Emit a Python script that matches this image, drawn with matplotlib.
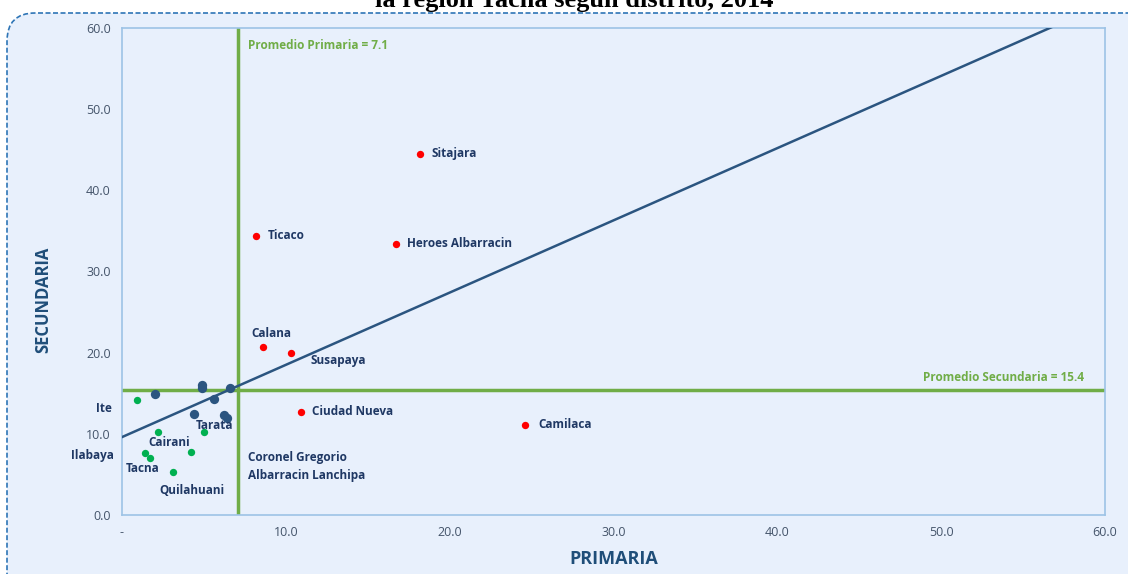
import matplotlib
matplotlib.use("Agg")
import matplotlib.pyplot as plt
from matplotlib.patches import FancyBboxPatch

# ---- data ------------------------------------------------------------------
red_names = ["Sitajara", "Ticaco", "Heroes Albarracin", "Calana", "Susapaya",
             "Ciudad Nueva", "Camilaca"]
red_x = [18.2, 8.2, 16.7, 8.6, 10.3, 10.9, 24.6]
red_y = [44.5, 34.4, 33.4, 20.7, 20.0, 12.7, 11.1]

green_x = [0.9, 2.2, 1.4, 1.7, 3.1, 4.2, 5.0]
green_y = [14.2, 10.2, 7.6, 7.0, 5.3, 7.8, 10.2]

blue_x = [2.0, 4.9, 4.9, 6.6, 5.6, 4.4, 6.2, 6.4]
blue_y = [14.9, 16.0, 15.6, 15.7, 14.3, 12.4, 12.3, 12.0]

# labels placed beside the low-value districts (data coords of text anchor)
other_labels = ["Ite", "Tarata", "Cairani", "Ilabaya", "Tacna", "Quilahuani",
                "Coronel Gregorio\nAlbarracin Lanchipa"]
other_lx = [-1.6, 4.5, 1.6, -3.1, 0.2, 2.3, 7.7]
other_ly = [13.1, 11.0, 8.9, 7.3, 5.7, 3.0, 6.0]

avg_primaria = 7.1
avg_secundaria = 15.4
trend_intercept = 9.6
trend_slope = 0.89

x_ticks = [0, 10, 20, 30, 40, 50, 60]
x_tick_labels = ["-", "10.0", "20.0", "30.0", "40.0", "50.0", "60.0"]
y_ticks = [0, 10, 20, 30, 40, 50, 60]
y_tick_labels = ["0.0", "10.0", "20.0", "30.0", "40.0", "50.0", "60.0"]

# ---- style -----------------------------------------------------------------
bg = "#E8F0FC"
navy = "#1F3864"
tick_col = "#44546A"
avg_col = "#70AD47"
spine_col = "#9DC3E6"
font = "Open Sans"

fig = plt.figure(figsize=(11.28, 5.74), dpi=100)
fig.patch.set_facecolor("white")

W, H = 1128, 574
box = FancyBboxPatch((7 / W, -0.1), 1.2, 1.1 - 13 / H,
                     boxstyle="round,pad=0,rounding_size=0.025",
                     transform=fig.transFigure, facecolor=bg,
                     edgecolor="#2E75B6", linestyle=(0, (3, 1.5)), linewidth=1.2,
                     mutation_aspect=W / H, zorder=-1)
fig.patches.append(box)

fig.text(574 / W, 1 - 7 / H, "la región Tacna según distrito, 2014",
         ha="center", va="baseline", fontsize=19, fontweight="bold",
         family="Liberation Serif", color="black")

ax = fig.add_axes([122 / W, 1 - 515 / H, (1105 - 122) / W, (515 - 28) / H])
ax.set_facecolor(bg)
ax.set_xlim(0, 60)
ax.set_ylim(0, 60)
for sp in ax.spines.values():
    sp.set_color(spine_col)
    sp.set_linewidth(1.2)
ax.tick_params(length=0, labelsize=9, colors=tick_col, pad=8)
ax.set_xticks(x_ticks)
ax.set_xticklabels(x_tick_labels, family=font)
ax.set_yticks(y_ticks)
ax.set_yticklabels(y_tick_labels, family=font)

# average lines
ax.axvline(avg_primaria, color=avg_col, linewidth=2.5, zorder=2)
ax.axhline(avg_secundaria, color=avg_col, linewidth=2.5, zorder=2)
ax.text(avg_primaria + 0.6, 57.9, f"Promedio Primaria = {avg_primaria}",
        color=avg_col, fontsize=8.5, fontweight="bold", family=font, va="center")
ax.text(58.7, avg_secundaria + 0.7, f"Promedio Secundaria = {avg_secundaria}",
        color=avg_col, fontsize=8.5, fontweight="bold", family=font,
        ha="right", va="bottom")

# trend line
tx = [0, 60]
ty = [trend_intercept + trend_slope * v for v in tx]
ax.plot(tx, ty, color="#2B5580", linewidth=1.8, zorder=3)

# points
ax.scatter(blue_x, blue_y, s=45, color="#2B5580", zorder=4, linewidths=0)
ax.scatter(green_x, green_y, s=28, color="#00B050", zorder=4, linewidths=0)
ax.scatter(red_x, red_y, s=28, color="#FF0000", zorder=4, linewidths=0)

label_style = dict(color=navy, fontsize=8.5, fontweight="bold", family=font,
                   va="center", zorder=5)
red_offsets = [(0.7, 0), (0.7, 0), (0.7, 0), (-0.7, 1.7), (1.2, -1.0),
               (0.7, 0), (0.8, 0)]
for name, x, y, (dx, dy) in zip(red_names, red_x, red_y, red_offsets):
    ax.text(x + dx, y + dy, name, **label_style)
for name, x, y in zip(other_labels, other_lx, other_ly):
    ax.text(x, y, name, clip_on=False, linespacing=1.5, **label_style)

ax.set_xlabel("PRIMARIA", fontsize=13, fontweight="bold", color="#1F4E79",
              family=font, labelpad=8)
fig.text(43 / W, 1 - 300 / H, "SECUNDARIA", rotation=90, ha="center",
         va="center", fontsize=12, fontweight="bold", color="#1F4E79",
         family=font)

fig.savefig("out.png", dpi=100, facecolor=fig.get_facecolor())
